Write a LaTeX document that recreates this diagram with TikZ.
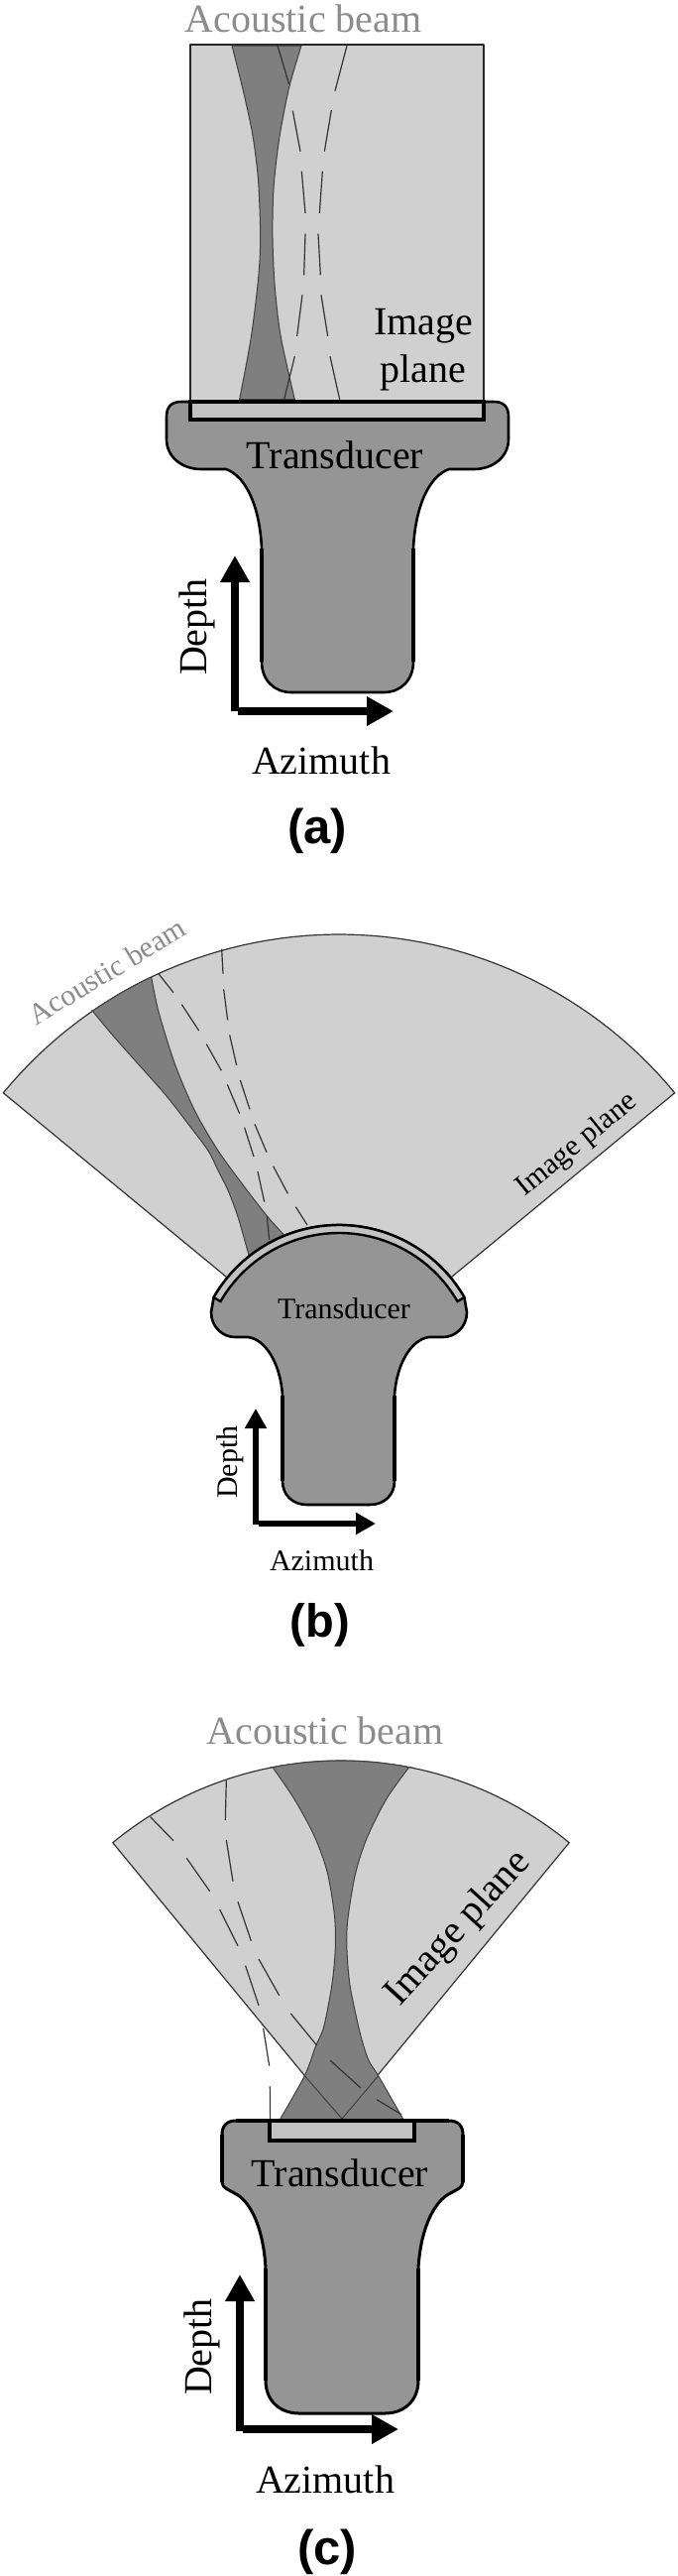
\documentclass[tikz,border=0pt]{standalone}
\usepackage{fontspec}
\setmainfont{Liberation Serif}
\newfontfamily\lblfont{Liberation Sans}
\usetikzlibrary{arrows.meta}
\definecolor{planefill}{HTML}{D0D0D0}
\definecolor{beamfill}{HTML}{7F7F7F}
\definecolor{bodyfill}{HTML}{959595}
\definecolor{barfill}{HTML}{C2C2C2}
\definecolor{beamlabel}{HTML}{8C8C8C}
\tikzset{
  x=1pt,y=-1pt,
  planeshape/.style={fill=planefill,draw=black!80,line width=1.2pt,line join=round},
  beamshape/.style={fill=beamfill,draw=black!75,line width=1pt},
  dsh/.style={draw=black!80,line width=1.2pt},
  bodyshape/.style={fill=bodyfill,draw=black,line width=2.6pt,line join=round},
  thickside/.style={draw=black,line width=4.4pt},
  barshape/.style={fill=barfill,draw=black,line width=4.4pt,line join=miter},
  axisbig/.style={draw=black,line width=7.5pt,-{Triangle[length=27pt,width=28pt]}},
  axissmall/.style={draw=black,line width=5.5pt,-{Triangle[length=20pt,width=21pt]}},
  lblbig/.style={font=\fontsize{40}{48}\selectfont,anchor=base,inner sep=0pt,align=center},
  lblsmall/.style={font=\fontsize{30}{36}\selectfont,anchor=base,inner sep=0pt},
  panel/.style={font=\lblfont\bfseries\fontsize{49}{56}\selectfont,anchor=base,inner sep=0pt},
}
\begin{document}
\begin{tikzpicture}
\fill[white] (0,0) rectangle (684,2597);
\useasboundingbox (0,0) rectangle (684,2597);

%%% Panel (a)
\path[planeshape,draw=black!85,line width=2pt] (192,45) rectangle (488,408);
\begin{scope}[shift={(220,40)},xscale=1/3,yscale=1/3]
  \path[beamshape] plot[smooth] coordinates {(42,18) (75,150) (105,290) (122,430) (128,600) (122,720) (100,900) (65,1088)}
     -- plot[smooth] coordinates {(232,1088) (190,900) (172,750) (165,600) (168,450) (185,300) (215,145) (252,18)} -- cycle;
  \foreach \a/\b/\c/\d in {180/18/215/135,226/215/249/338,253/398/264/525,264/587/260/712,255/772/239/897,232/958/200/1088,
     390/18/354/155,343/213/322/338,316/398/307/525,303/587/310/712,312/772/332/897,339/958/368/1088}
     \draw[dsh] (\a,\b) -- (\c,\d);
\end{scope}
\path[bodyshape] (183,405) -- (498,405) .. controls (508,405) and (513,410) .. (513,420) -- (513,443)
  .. controls (513,460) and (498,473) .. (478,473) -- (453,473)
  .. controls (433,480) and (419,510) .. (417,553) -- (417,667)
  .. controls (417,686) and (404,698) .. (387,698) -- (294,698)
  .. controls (277,698) and (264,686) .. (264,667) -- (264,553)
  .. controls (262,510) and (248,480) .. (228,473) -- (203,473)
  .. controls (183,473) and (168,460) .. (168,443) -- (168,420)
  .. controls (168,410) and (173,405) .. (183,405) -- cycle;
\draw[thickside] (264,553) -- (264,667);
\draw[thickside] (417,553) -- (417,667);
\path[barshape] (192,405) rectangle (488,423);
\coordinate (ao) at (237,717);
\coordinate (aoh) at (240,717);
\coordinate (au) at (237,560);
\coordinate (ar) at (397,717);
\draw[axisbig] (ao) -- (au);
\draw[axisbig] (aoh) -- (ar);
\node[lblbig,text=beamlabel] (abeam) at (306,32) {Acoustic beam};
\node[lblbig] (aimg1) at (427,337) {Image};
\node[lblbig] (aimg2) at (427,385) {plane};
\node[lblbig] (atrans) at (338,472) {Transducer};
\node[lblbig,rotate=90] (adepth) at (208,632) {Depth};
\node[lblbig] (aazi) at (324,780) {Azimuth};
\node[panel] (alab) at (320,850) {(a)};

%%% Panel (b)
\path[planeshape] (342,1381) -- plot[domain=140.5:39.5,samples=60] ({342+439*cos(\x)},{1381-439*sin(\x)}) -- cycle;
\begin{scope}[shift={(80,960)},xscale=1/3,yscale=1/3]
  \path[beamshape] plot[smooth] coordinates {(38,175) (100,250) (180,340) (260,430) (330,520) (390,600) (420,660) (450,720) (480,800) (510,905) (520,940)}
     -- plot[smooth] coordinates {(640,880) (615,850) (570,800) (500,710) (420,600) (350,480) (290,340) (240,180) (218,75)}
     -- plot[domain=115.4:124.5,samples=10] ({(342+439*cos(\x)-80)*3},{(1381-439*sin(\x)-960)*3}) -- cycle;
  \foreach \a/\b/\c/\d in {240/65/285/122,310/158/362/237,385/278/430/358,448/400/485/488,500/530/528/618,540/663/560/755,568/800/575/870,
     431/-10/435/65,437/112/449/205,455/250/476/342,487/387/516/475,531/520/567/605,587/647/631/730,655/770/690/825}
     \draw[dsh] (\a,\b) -- (\c,\d);
\end{scope}
\path[bodyshape] plot[domain=150:30,samples=60] ({342+146*cos(\x)},{1381-146*sin(\x)})
  -- (471,1323) .. controls (471,1338) and (459,1348) .. (447,1348) -- (433,1348)
  .. controls (415,1350) and (400,1375) .. (398,1407) -- (398,1493)
  .. controls (398,1507) and (388,1517) .. (373,1517) -- (310,1517)
  .. controls (295,1517) and (285,1507) .. (285,1493) -- (285,1407)
  .. controls (283,1375) and (268,1350) .. (250,1348) -- (237,1348)
  .. controls (225,1348) and (213,1338) .. (213,1323) -- cycle;
\draw[thickside,line width=3.4pt] (285,1407) -- (285,1493);
\draw[thickside,line width=3.4pt] (398,1407) -- (398,1493);
\path[fill=barfill,draw=black,line width=2.4pt,line join=miter] plot[domain=150:30,samples=60] ({342+146*cos(\x)},{1381-146*sin(\x)})
  -- plot[domain=30:150,samples=60] ({342+138*cos(\x)},{1381-138*sin(\x)}) -- cycle;
\coordinate (bo) at (258,1537);
\coordinate (boh) at (261,1536);
\coordinate (bu) at (258,1420);
\coordinate (br) at (379,1536);
\draw[axissmall] (bo) -- (bu);
\draw[axissmall] (boh) -- (br);
\node[lblsmall,text=beamlabel,rotate=31] (bbeam) at (113,988) {Acoustic beam};
\node[lblsmall,rotate=39] (bimg) at (587,1160) {Image plane};
\node[lblsmall] (btrans) at (347,1329) {Transducer};
\node[lblsmall,rotate=90] (bdepth) at (239,1474) {Depth};
\node[lblsmall] (bazi) at (324.5,1583) {Azimuth};
\node[panel,font=\lblfont\bfseries\fontsize{47}{54}\selectfont] (blab) at (323,1650) {(b)};

%%% Panel (c)
\path[planeshape] (344,2137) -- plot[domain=129.5:50.5,samples=60] ({344+362*cos(\x)},{2137-362*sin(\x)}) -- cycle;
\begin{scope}[shift={(230,1770)},xscale=1/3,yscale=1/3]
  \path[beamshape] plot[smooth] coordinates {(135,35) (200,130) (260,240) (300,350) (322,480) (325,580) (315,690) (290,820) (265,880) (232,968) (155,1104)}
     -- plot[smooth] coordinates {(533,1104) (455,968) (425,920) (400,840) (370,700) (360,590) (362,500) (385,360) (420,250) (480,130) (548,35)}
     -- plot[domain=79:101,samples=16] ({(344+362*cos(\x)-230)*3},{(2137-362*sin(\x)-1770)*3}) -- cycle;
  \draw[black!75,line width=1pt] (232,968) -- (345,1098) -- (455,968);
  \foreach \a/\b/\c/\d in {310/922/402/1005,450/1040/525/1085}
     \draw[dsh] (\a,\b) -- (\c,\d);
\end{scope}
\begin{scope}[shift={(90,1710)},xscale=1/3,yscale=1/3]
  \foreach \a/\b/\c/\d in {185/365/255/437,295/490/365/590,395/645/450/755,473/815/513/935,527/1005/545/1118,547/1180/548/1285,
     415/255/412/375,415/435/435/560,450/622/490/740,513/795/575/905,610/960/688/1055}
     \draw[dsh] (\a,\b) -- (\c,\d);
\end{scope}
\path[bodyshape,line width=3pt] (238,2138) -- (453,2138) .. controls (462,2138) and (467,2143) .. (467,2152) -- (467,2200)
  .. controls (467,2206) and (459,2208) .. (451,2213)
  .. controls (436,2223) and (424,2250) .. (422,2287) -- (422,2400)
  .. controls (422,2420) and (408,2433) .. (388,2433) -- (302,2433)
  .. controls (282,2433) and (268,2420) .. (268,2400) -- (268,2287)
  .. controls (266,2250) and (255,2223) .. (240,2213)
  .. controls (232,2208) and (224,2206) .. (224,2200) -- (224,2152)
  .. controls (224,2143) and (229,2138) .. (238,2138) -- cycle;
\draw[thickside] (268,2287) -- (268,2400);
\draw[thickside] (422,2287) -- (422,2400);
\draw[thickside] (224,2152) -- (224,2200);
\draw[thickside] (467,2152) -- (467,2200);
\draw[thickside] (238,2138) -- (453,2138);
\path[barshape] (272,2138) rectangle (418,2158);
\coordinate (co) at (242,2451);
\coordinate (coh) at (245,2449);
\coordinate (cu) at (242,2293);
\coordinate (cr) at (402,2449);
\draw[axisbig] (co) -- (cu);
\draw[axisbig] (coh) -- (cr);
\node[lblbig,text=beamlabel] (cbeam) at (328,1758) {Acoustic beam};
\node[lblbig,rotate=47.7] (cimg) at (470,1951) {Image plane};
\node[lblbig] (ctrans) at (343,2204) {Transducer};
\node[lblbig,rotate=90] (cdepth) at (213,2366) {Depth};
\node[lblbig] (cazi) at (328,2513) {Azimuth};
\node[panel] (clab) at (330,2585) {(c)};
\end{tikzpicture}
\end{document}
